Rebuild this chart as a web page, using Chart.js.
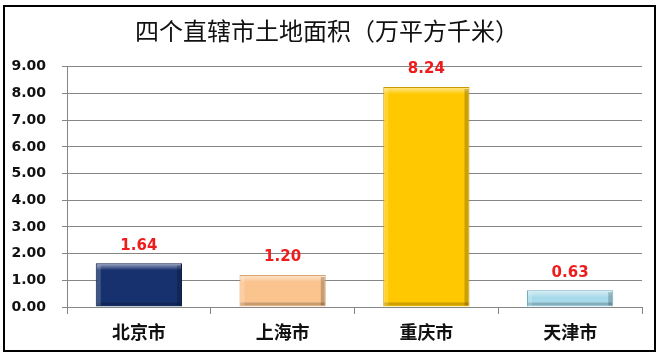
<!DOCTYPE html>
<html>
<head>
<meta charset="utf-8">
<script src="https://cdn.jsdelivr.net/npm/chart.js@4/dist/chart.umd.min.js"></script>
<style>
  html, body { margin: 0; padding: 0; background: #fff; }
  #box { width: 661px; height: 359px; }
</style>
</head>
<body>
<div id="box"><canvas id="grafico" width="661" height="359"></canvas></div>
<script>
// Dados do gráfico
var titulo = "四个直辖市土地面积（万平方千米）";
var cidades = ["北京市", "上海市", "重庆市", "天津市"];
var areaValues = [1.64, 1.20, 8.24, 0.63];
var yMax = 9;

// Cores das barras
var corBarra = ["#17306e", "#fbc48e", "#ffc800", "#a8dbea"];
var corBorda = ["#0c1d47", "#d8a26c", "#c89c00", "#74adbf"];

// Rótulos vermelhos acima das barras + efeito de relevo
var pluginBarras = {
	id: "pluginBarras",
	afterDatasetsDraw: function (chart) {
		var ctx = chart.ctx;
		var meta = chart.getDatasetMeta(0);
		meta.data.forEach(function (bar, i) {
			var left = bar.x - bar.width / 2;
			var right = bar.x + bar.width / 2;
			var top = bar.y;
			var h = bar.base - bar.y;
			ctx.save();
			// brilho no topo
			var g = ctx.createLinearGradient(0, top, 0, top + 7);
			g.addColorStop(0, "rgba(255,255,255,0.6)");
			g.addColorStop(1, "rgba(255,255,255,0)");
			ctx.fillStyle = g;
			ctx.fillRect(left + 1, top + 1, bar.width - 2, Math.min(7, h - 2));
			// sombra embaixo e nas laterais
			ctx.fillStyle = "rgba(0,0,0,0.2)";
			ctx.fillRect(left + 1, bar.base - 4, bar.width - 2, 3);
			ctx.fillRect(right - 5, top + 2, 4, h - 3);
			ctx.fillStyle = "rgba(255,255,255,0.18)";
			ctx.fillRect(left + 1, top + 2, 4, h - 3);
			ctx.restore();

			// valor
			ctx.save();
			ctx.font = "bold 15px 'DejaVu Sans'";
			ctx.fillStyle = "#ee1c1c";
			ctx.textAlign = "center";
			ctx.textBaseline = "bottom";
			ctx.fillText(areaValues[i].toFixed(2), bar.x, top - 10);
			ctx.restore();
		});
	},
	afterDraw: function (chart) {
		var ctx = chart.ctx;
		ctx.save();
		ctx.strokeStyle = "#000";
		ctx.lineWidth = 2;
		ctx.strokeRect(4, 6, 651, 345);
		ctx.restore();
	},
};

var config = {
	type: "bar",
	data: {
		labels: cidades,
		datasets: [
			{
				data: areaValues,
				backgroundColor: corBarra,
				borderColor: corBorda,
				borderWidth: 1,
				barPercentage: 0.6,
				categoryPercentage: 1,
			},
		],
	},
	options: {
		responsive: false,
		animation: false,
		layout: { padding: { left: 12, right: 19, top: 0, bottom: 0 } },
		plugins: {
			legend: { display: false },
			tooltip: { enabled: false },
			title: {
				display: true,
				text: titulo,
				color: "#111",
				font: { family: "'Noto Sans CJK SC'", size: 24, weight: "normal", lineHeight: 1.2 },
				padding: { top: 16, bottom: 22 },
			},
		},
		scales: {
			x: {
				grid: {
					drawOnChartArea: false,
					color: "#868686",
					tickLength: 7,
					offset: true,
				},
				border: { color: "#868686" },
				ticks: {
					color: "#111",
					font: { family: "'Noto Sans CJK SC'", size: 18, weight: "bold" },
					padding: 7,
				},
				afterFit: function (scale) {
					scale.height = 52;
				},
			},
			y: {
				min: 0,
				max: yMax,
				grid: { color: "#868686", tickLength: 5 },
				border: { color: "#868686" },
				ticks: {
					stepSize: 1,
					color: "#111",
					font: { family: "'DejaVu Sans'", size: 14, weight: "bold" },
					padding: 16,
					callback: function (v) {
						return Number(v).toFixed(2);
					},
				},
				afterFit: function (scale) {
					scale.width = 55;
				},
			},
		},
	},
	plugins: [pluginBarras],
};

var grafico = new Chart(document.getElementById("grafico"), config);
</script>
</body>
</html>
